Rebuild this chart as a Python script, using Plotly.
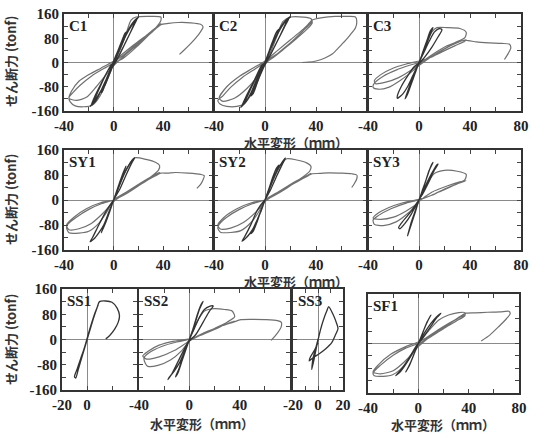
import plotly.graph_objects as go

W, H = 535, 435

# ---------------- data (mm, tonf) ----------------
# C1
c1_small_x = [0, 3, 6, 9, 10, 7, 3, 0, -3, -6, -9, -10, -7, -3, 0, 4, 8, 12, 16, 20, 18, 13, 7, 2, -3, -8, -12, -16, -19, -17, -12, -7, -2, 0, 5, 10, 15, 19, 16, 10, 4, -1, -6, -11, -15, -18, -15, -9, -3, 0]
c1_small_y = [0, 30, 65, 95, 100, 75, 35, 5, -25, -60, -95, -100, -75, -35, -5, 35, 75, 110, 135, 150, 140, 95, 45, 5, -30, -75, -105, -130, -145, -135, -90, -45, -8, 0, 45, 90, 125, 145, 120, 70, 20, -10, -55, -100, -130, -140, -110, -60, -15, 0]
c1_large_x = [0, 5, 10, 14, 18, 28, 38, 38, 35, 28, 18, 8, 0, -8, -18, -27, -33, -36, -35, -31, -24, -17, -11, -6, -2, 0, 8, 18, 28, 35, 38, 36, 30, 20, 10, 0, -10, -20, -28, -34, -36, -30, -22, -14, -6, 0, 8, 18, 28, 35, 38, 44, 52, 62, 70, 72, 68, 62, 57, 53]
c1_large_y = [0, 40, 95, 140, 150, 152, 150, 138, 120, 90, 50, 15, -2, -20, -45, -75, -100, -115, -130, -143, -146, -140, -110, -65, -25, 0, 25, 60, 95, 118, 128, 122, 100, 70, 38, 5, -18, -40, -62, -95, -118, -125, -115, -80, -40, -10, 20, 55, 90, 115, 125, 129, 132, 131, 126, 117, 90, 62, 42, 27]

# C2
c2_small_x = [0, 3, 6, 9, 11, 8, 3, 0, -3, -6, -9, -11, -8, -3, 0, 4, 8, 12, 16, 20, 17, 12, 6, 1, -4, -8, -12, -16, -19, -16, -11, -6, -1, 0, 5, 10, 15, 19, 15, 9, 3, -2, -7, -11, -15, -18, -14, -8, -3, 0]
c2_small_y = [0, 35, 70, 100, 110, 80, 35, 2, -30, -65, -100, -110, -80, -35, -5, 40, 80, 115, 138, 152, 135, 90, 40, 0, -40, -80, -110, -135, -148, -130, -85, -40, -5, 0, 50, 95, 130, 148, 115, 65, 15, -15, -60, -100, -130, -142, -105, -55, -12, 0]
c2_large_x = [0, 5, 10, 14, 20, 30, 36, 37, 33, 25, 15, 5, 0, -8, -18, -27, -33, -37, -35, -30, -22, -16, -10, -5, 0, 10, 20, 30, 36, 37, 30, 20, 10, 0, -10, -20, -30, -36, -33, -24, -14, -5, 0, 10, 20, 30, 37, 45, 55, 65, 71, 72, 71, 67, 63, 58, 53, 47, 40, 34, 29]
c2_large_y = [0, 40, 95, 135, 150, 150, 145, 130, 110, 80, 45, 12, 0, -22, -50, -82, -110, -125, -138, -145, -145, -135, -100, -55, 0, 30, 65, 105, 130, 138, 110, 75, 40, 5, -20, -45, -80, -118, -128, -118, -85, -40, -5, 30, 65, 105, 140, 148, 152, 152, 150, 135, 115, 92, 72, 50, 29, 15, 5, 1, 0]

# C3
c3_small_x = [0, 3, 6, 9, 11, 8, 4, 0, -3, -6, -9, -11, -8, -4, 0, 4, 8, 12, 16, 18, 15, 10, 4, -1, -5, -9, -13, -17, -17, -14, -9, -4, 0]
c3_small_y = [0, 35, 70, 105, 115, 85, 40, 0, -35, -70, -105, -120, -85, -40, 0, 35, 70, 100, 112, 108, 85, 50, 15, -10, -45, -80, -105, -118, -110, -80, -45, -15, 0]
c3_large_x = [0, 6, 10, 14, 22, 32, 37, 36, 28, 18, 8, 0, -8, -18, -28, -35, -36, -32, -24, -15, -7, 0, 10, 20, 30, 37, 36, 28, 18, 8, 0, -10, -20, -30, -35, -34, -26, -16, -6, 0, 10, 22, 32, 37, 45, 55, 65, 71, 72, 70, 67]
c3_large_y = [0, 60, 100, 115, 115, 112, 100, 82, 65, 40, 15, 0, -10, -25, -45, -68, -82, -88, -82, -60, -35, -10, 20, 45, 65, 75, 70, 55, 35, 15, 5, -5, -18, -40, -60, -70, -65, -50, -25, -5, 25, 55, 70, 73, 68, 65, 63, 60, 48, 30, 10]

# SY1
sy1_small_x = [0, 3, 6, 9, 10, 7, 3, 0, -3, -6, -9, -10, -7, -3, 0, 4, 8, 12, 15, 17, 15, 10, 5, 0, -4, -8, -12, -16, -19, -17, -12, -6, -1, 0]
sy1_small_y = [0, 35, 70, 100, 108, 80, 35, 0, -30, -65, -95, -105, -78, -35, 0, 40, 80, 110, 128, 135, 122, 80, 35, 0, -40, -80, -105, -125, -133, -120, -80, -35, -5, 0]
sy1_large_x = [0, 6, 12, 17, 26, 34, 37, 36, 28, 18, 8, 0, -10, -20, -30, -37, -38, -36, -28, -20, -12, -5, 0, 10, 22, 32, 37, 34, 25, 14, 4, 0, -10, -22, -32, -38, -36, -28, -18, -8, 0, 12, 25, 35, 38, 43, 50, 60, 70, 73, 72, 70, 67]
sy1_large_y = [0, 60, 110, 135, 130, 120, 110, 95, 68, 40, 15, 0, -12, -30, -55, -78, -88, -105, -106, -100, -75, -35, 0, 25, 55, 78, 88, 80, 58, 32, 8, 0, -8, -28, -55, -80, -95, -92, -75, -40, -5, 28, 60, 80, 86, 86, 88, 86, 82, 78, 65, 50, 37]

# SY2
sy2_small_x = [0, 3, 6, 9, 11, 8, 3, 0, -3, -6, -9, -11, -8, -3, 0, 4, 8, 12, 15, 16, 14, 9, 4, 0, -4, -8, -12, -16, -18, -16, -11, -6, -1, 0]
sy2_small_y = [0, 35, 72, 102, 112, 82, 35, 0, -32, -68, -98, -108, -80, -35, 0, 42, 82, 112, 130, 134, 118, 75, 30, 0, -42, -82, -108, -126, -132, -118, -78, -32, -4, 0]
sy2_large_x = [0, 6, 12, 17, 25, 33, 36, 35, 27, 17, 7, 0, -10, -20, -30, -36, -37, -35, -27, -19, -11, -4, 0, 10, 22, 32, 36, 33, 24, 13, 4, 0, -10, -22, -32, -37, -35, -27, -17, -7, 0, 12, 25, 34, 37, 43, 50, 60, 68, 72, 72, 70, 68]
sy2_large_y = [0, 60, 110, 132, 128, 118, 108, 92, 66, 38, 14, 0, -12, -30, -55, -78, -90, -103, -104, -98, -72, -32, 0, 25, 55, 76, 85, 78, 56, 30, 8, 0, -8, -28, -55, -80, -93, -90, -72, -38, -5, 28, 58, 78, 84, 85, 87, 86, 84, 80, 68, 52, 40]

# SY3
sy3_small_x = [0, 3, 6, 9, 11, 8, 4, 0, -3, -6, -8, -9, -7, -3, 0, 4, 8, 12, 14, 15, 12, 8, 3, -1, -5, -10, -14, -16, -15, -11, -6, -2, 0]
sy3_small_y = [0, 35, 70, 105, 120, 95, 45, 0, -35, -70, -100, -115, -90, -40, 0, 35, 70, 100, 112, 115, 95, 60, 20, -5, -30, -55, -75, -88, -92, -75, -45, -15, 0]
sy3_large_x = [0, 6, 12, 20, 30, 37, 36, 28, 18, 8, 0, -10, -22, -32, -36, -35, -28, -18, -8, 0, 10, 22, 32, 37, 30, 20, 10, 0, -12, -24, -33, -36, -30, -20, -10, 0]
sy3_large_y = [0, 50, 85, 95, 92, 82, 65, 48, 30, 12, 0, -10, -28, -50, -64, -78, -82, -70, -40, -5, 25, 45, 58, 62, 52, 35, 15, 2, -8, -25, -45, -58, -62, -55, -35, -8]

# SS1
ss1_x = [0, 3, 6, 9, 6, 2, -2, -5, -8, -10, -9, -7, -4, -1, 2, 5, 8, 10, 15, 20, 24, 26, 25, 22, 18, 15]
ss1_y = [0, 40, 80, 110, 80, 30, -25, -60, -95, -118, -122, -95, -55, -15, 25, 65, 100, 120, 122, 118, 100, 75, 55, 32, 12, 2]

# SS2
ss2_small_x = [0, 3, 6, 9, 11, 8, 4, 0, -3, -6, -9, -11, -8, -4, 0, 4, 8, 12, 16, 19, 16, 11, 5, 0, -4, -8, -12, -16, -17, -14, -9, -4, 0]
ss2_small_y = [0, 35, 75, 108, 121, 95, 45, 0, -35, -70, -105, -118, -90, -40, 0, 35, 70, 95, 105, 106, 90, 55, 15, -5, -40, -75, -100, -120, -127, -110, -70, -30, 0]
ss2_large_x = [0, 6, 12, 20, 28, 34, 36, 30, 20, 10, 0, -10, -22, -32, -36, -35, -33, -25, -15, -6, 0, 10, 22, 32, 36, 30, 20, 8, 0, -12, -24, -33, -37, -34, -24, -12, 0, 12, 25, 35, 41, 50, 60, 70, 73, 73, 70, 65]
ss2_large_y = [0, 55, 90, 98, 95, 90, 72, 55, 35, 15, 0, -8, -22, -42, -58, -75, -85, -82, -65, -35, -5, 18, 38, 52, 58, 50, 32, 12, 2, -5, -18, -38, -52, -62, -55, -35, -5, 20, 42, 55, 63, 64, 63, 60, 55, 40, 20, -3]

# SS3
ss3_x = [0, -2, -4, -5, -3, -1, 1, 3, 5, 7, 8.5, 12, 15, 16, 14, 11, 6, 1, -4, -7, -6, -3, 0]
ss3_y = [0, -30, -60, -95, -60, -20, 15, 45, 70, 90, 104, 80, 50, 35, 15, -10, -30, -45, -58, -68, -55, -35, -10]

# SF1
sf1_small_x = [0, 3, 6, 9, 10, 7, 3, 0, -3, -6, -9, -10, -7, -3, 0, 5, 10, 15, 18, 15, 9, 3, -2, -7, -12, -16, -18, -14, -8, -3, 0]
sf1_small_y = [0, 30, 60, 85, 92, 70, 30, 0, -30, -60, -85, -92, -70, -30, 0, 35, 65, 88, 98, 85, 50, 15, -10, -45, -75, -95, -104, -90, -55, -20, 0]
sf1_large_x = [0, 8, 16, 24, 32, 37, 37, 30, 20, 10, 0, -10, -20, -30, -36, -35, -28, -20, -12, -5, 0, 12, 24, 33, 37, 30, 18, 6, 0, -10, -22, -32, -36, -30, -20, -10, 0, 12, 25, 35, 38, 45, 55, 65, 72, 73, 70, 64, 57, 50]
sf1_large_y = [0, 40, 75, 92, 100, 100, 90, 72, 48, 22, 0, -15, -38, -70, -95, -104, -106, -100, -75, -35, -5, 30, 62, 85, 92, 78, 50, 18, 5, -10, -35, -70, -92, -98, -88, -55, -10, 30, 65, 92, 98, 99, 101, 102, 104, 96, 80, 55, 28, 8]

panel_names = ["C1", "C2", "C3", "SY1", "SY2", "SY3", "SS1", "SS2", "SS3", "SF1"]
y_ticks = [-160, -120, -80, -40, 0, 40, 80, 120, 160]
y_tick_text = ["-160", "", "-80", "", "0", "", "80", "", "160"]
x_ticks_wide = [-40, -20, 0, 20, 40, 60, 80]
x_text_no80 = ["-40", "", "0", "", "40", "", ""]
x_text_80 = ["-40", "", "0", "", "40", "", "80"]
ss1_ticks = [-20, 0, 20, 40]
ss1_text = ["-20", "0", "", ""]
ss3_ticks = [-20, -10, 0, 10, 20]
ss3_text = ["-20", "", "0", "", "20"]
y_title = "せん断力 (tonf)"
x_title = "水平変形（ｍｍ）"

# ---------------- layout geometry (pixels) ----------------
boxes = {
    "C1": (64, 14, 213, 111), "C2": (214, 14, 367, 111), "C3": (368, 14, 521, 111),
    "SY1": (64, 150, 213, 250), "SY2": (214, 150, 367, 250), "SY3": (368, 150, 521, 250),
    "SS1": (62, 289, 137, 390), "SS2": (139, 289, 290, 390), "SS3": (293, 289, 343, 390),
    "SF1": (368, 294, 519, 393),
}
series = {
    "C1": [(c1_large_x, c1_large_y), (c1_small_x, c1_small_y)],
    "C2": [(c2_large_x, c2_large_y), (c2_small_x, c2_small_y)],
    "C3": [(c3_large_x, c3_large_y), (c3_small_x, c3_small_y)],
    "SY1": [(sy1_large_x, sy1_large_y), (sy1_small_x, sy1_small_y)],
    "SY2": [(sy2_large_x, sy2_large_y), (sy2_small_x, sy2_small_y)],
    "SY3": [(sy3_large_x, sy3_large_y), (sy3_small_x, sy3_small_y)],
    "SS1": [(ss1_x, ss1_y)],
    "SS2": [(ss2_large_x, ss2_large_y), (ss2_small_x, ss2_small_y)],
    "SS3": [(ss3_x, ss3_y)],
    "SF1": [(sf1_large_x, sf1_large_y), (sf1_small_x, sf1_small_y)],
}
xcfg = {
    "C1": ([-40, 80], x_ticks_wide, x_text_no80), "C2": ([-40, 80], x_ticks_wide, x_text_no80),
    "C3": ([-40, 80], x_ticks_wide, x_text_80),
    "SY1": ([-40, 80], x_ticks_wide, x_text_no80), "SY2": ([-40, 80], x_ticks_wide, x_text_no80),
    "SY3": ([-40, 80], x_ticks_wide, x_text_80),
    "SS1": ([-20, 40], ss1_ticks, ss1_text), "SS2": ([-40, 80], x_ticks_wide, x_text_no80),
    "SS3": ([-20, 20], ss3_ticks, ss3_text), "SF1": ([-40, 80], x_ticks_wide, x_text_80),
}
left_panels = {"C1", "SY1", "SS1"}

SERIF = "Liberation Serif, Times New Roman, serif"
CJK = "Noto Sans CJK JP"
tickfont = dict(family=SERIF, size=15, color="#222", weight="bold")

fig = go.Figure()
annotations = []
layout = dict(width=W, height=H, autosize=False,
              margin=dict(l=0, r=0, t=0, b=0, pad=0, autoexpand=False),
              paper_bgcolor="white", plot_bgcolor="white", showlegend=False)

for i, name in enumerate(panel_names, start=1):
    xa = "x" if i == 1 else f"x{i}"
    ya = "y" if i == 1 else f"y{i}"
    xkey = "xaxis" if i == 1 else f"xaxis{i}"
    ykey = "yaxis" if i == 1 else f"yaxis{i}"
    lst = series[name]
    for j, (xs, ys) in enumerate(lst):
        dark = (j == len(lst) - 1)
        fig.add_trace(go.Scatter(
            x=xs, y=ys, mode="lines", xaxis=xa, yaxis=ya, hoverinfo="skip",
            line=dict(color="#333333" if dark else "#707070", width=1.3 if dark else 1.2,
                      shape="spline", smoothing=0.7)))
    l, t, r, b = boxes[name]
    rng, tv, tt = xcfg[name]
    layout[xkey] = dict(domain=[l / W, r / W], range=rng, anchor=ya, tickmode="array",
                        tickvals=tv, ticktext=tt, ticks="inside", ticklen=4, tickwidth=1,
                        tickcolor="#444", mirror="allticks", showline=True, linecolor="#333",
                        linewidth=2, showgrid=False, zeroline=True, zerolinecolor="#8a8a8a",
                        zerolinewidth=1, tickfont=tickfont, fixedrange=True, automargin=False)
    layout[ykey] = dict(domain=[1 - b / H, 1 - t / H], range=[-160, 160], anchor=xa,
                        tickmode="array", tickvals=y_ticks, ticktext=y_tick_text,
                        showticklabels=name in left_panels, ticks="inside", ticklen=4,
                        tickwidth=1, tickcolor="#444", mirror="allticks", showline=True,
                        linecolor="#333", linewidth=2, showgrid=False, zeroline=True,
                        zerolinecolor="#8a8a8a", zerolinewidth=1, tickfont=tickfont,
                        fixedrange=True, automargin=False)
    annotations.append(dict(text=name, xref=f"{xa} domain", yref=f"{ya} domain", x=0, y=1,
                            xanchor="left", yanchor="top", xshift=3, yshift=-2, showarrow=False,
                            font=dict(family=SERIF, size=15, color="#222", weight="bold")))

# y titles
for yc in [62, 200, 340]:
    annotations.append(dict(text=y_title, xref="paper", yref="paper", x=10 / W, y=1 - yc / H,
                            xanchor="center", yanchor="middle", textangle=-90, showarrow=False,
                            font=dict(family=CJK, size=13, color="#333", weight="bold")))
# x titles
for xc, yc in [(296, 142), (296, 281), (202, 423), (443, 424)]:
    annotations.append(dict(text=x_title, xref="paper", yref="paper", x=xc / W, y=1 - yc / H,
                            xanchor="center", yanchor="middle", showarrow=False,
                            font=dict(family=CJK, size=13, color="#333", weight="bold")))

layout["annotations"] = annotations
fig.update_layout(**layout)
fig.write_html("out.html", config={"displayModeBar": False},
               post_script="document.body.style.margin='0';document.body.style.padding='0';")
